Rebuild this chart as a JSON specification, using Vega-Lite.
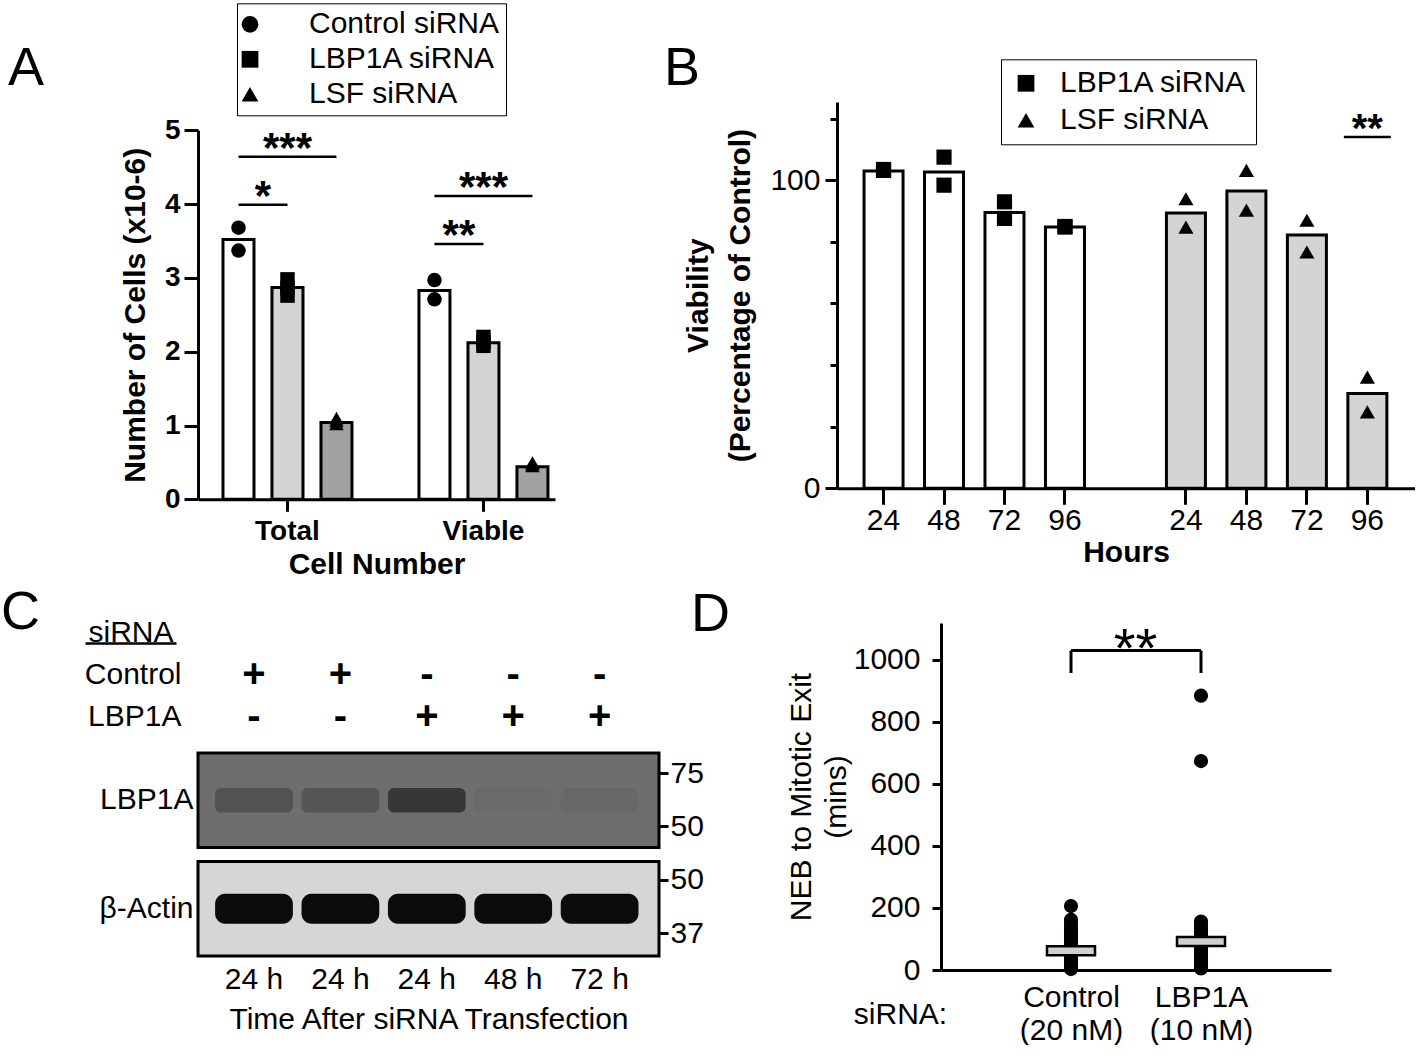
{
  "$schema": "https://vega.github.io/schema/vega-lite/v6.json",
  "background": "white",
  "autosize": {"type": "pad"},
  "padding": {"left": 1, "top": 2, "right": 0, "bottom": 0},
  "columns": 2,
  "bounds": "flush",
  "align": "each",
  "spacing": {"row": 123, "column": 178},
  "resolve": {
    "scale": {"color": "independent", "shape": "independent", "opacity": "independent"},
    "legend": {"color": "independent", "shape": "independent"}
  },
  "datasets": {
    "A_bars": [
      {"slot": "Total-Control", "treatment": "Control siRNA", "cells": 3.52},
      {"slot": "Total-LBP1A", "treatment": "LBP1A siRNA", "cells": 2.87},
      {"slot": "Total-LSF", "treatment": "LSF siRNA", "cells": 1.04},
      {"slot": "Viable-Control", "treatment": "Control siRNA", "cells": 2.83},
      {"slot": "Viable-LBP1A", "treatment": "LBP1A siRNA", "cells": 2.12},
      {"slot": "Viable-LSF", "treatment": "LSF siRNA", "cells": 0.44}
    ],
    "A_points": [
      {"slot": "Total-Control", "treatment": "Control siRNA", "cells": 3.68},
      {"slot": "Total-Control", "treatment": "Control siRNA", "cells": 3.37},
      {"slot": "Total-LBP1A", "treatment": "LBP1A siRNA", "cells": 2.98},
      {"slot": "Total-LBP1A", "treatment": "LBP1A siRNA", "cells": 2.76},
      {"slot": "Total-LBP1A", "treatment": "LBP1A siRNA", "cells": 2.86},
      {"slot": "Total-LSF", "treatment": "LSF siRNA", "cells": 1.06},
      {"slot": "Total-LSF", "treatment": "LSF siRNA", "cells": 1.1},
      {"slot": "Total-LSF", "treatment": "LSF siRNA", "cells": 1.02},
      {"slot": "Viable-Control", "treatment": "Control siRNA", "cells": 2.71},
      {"slot": "Viable-Control", "treatment": "Control siRNA", "cells": 2.97},
      {"slot": "Viable-LBP1A", "treatment": "LBP1A siRNA", "cells": 2.2},
      {"slot": "Viable-LBP1A", "treatment": "LBP1A siRNA", "cells": 2.08},
      {"slot": "Viable-LBP1A", "treatment": "LBP1A siRNA", "cells": 2.13},
      {"slot": "Viable-LSF", "treatment": "LSF siRNA", "cells": 0.48},
      {"slot": "Viable-LSF", "treatment": "LSF siRNA", "cells": 0.5},
      {"slot": "Viable-LSF", "treatment": "LSF siRNA", "cells": 0.45}
    ],
    "A_sig": [
      {"from": "Total-Control", "to": "Total-LSF", "mid": "Total-LBP1A", "level": 4.64, "stars": "***"},
      {"from": "Total-Control", "to": "Total-LBP1A", "level": 3.99, "stars": "*"},
      {"from": "Viable-Control", "to": "Viable-LSF", "mid": "Viable-LBP1A", "level": 4.11, "stars": "***"},
      {"from": "Viable-Control", "to": "Viable-LBP1A", "level": 3.46, "stars": "**"}
    ],
    "B_bars": [
      {"slot": "L24", "group": "LBP1A siRNA", "viability": 103},
      {"slot": "L48", "group": "LBP1A siRNA", "viability": 102.7},
      {"slot": "L72", "group": "LBP1A siRNA", "viability": 89.5},
      {"slot": "L96", "group": "LBP1A siRNA", "viability": 84.8},
      {"slot": "S24", "group": "LSF siRNA", "viability": 89.4},
      {"slot": "S48", "group": "LSF siRNA", "viability": 96.5},
      {"slot": "S72", "group": "LSF siRNA", "viability": 82.2},
      {"slot": "S96", "group": "LSF siRNA", "viability": 30.8}
    ],
    "B_points": [
      {"slot": "L24", "group": "LBP1A siRNA", "viability": 103.5},
      {"slot": "L24", "group": "LBP1A siRNA", "viability": 103.2},
      {"slot": "L48", "group": "LBP1A siRNA", "viability": 107.5},
      {"slot": "L48", "group": "LBP1A siRNA", "viability": 98.4},
      {"slot": "L72", "group": "LBP1A siRNA", "viability": 93},
      {"slot": "L72", "group": "LBP1A siRNA", "viability": 87.6},
      {"slot": "L96", "group": "LBP1A siRNA", "viability": 85},
      {"slot": "L96", "group": "LBP1A siRNA", "viability": 84.8},
      {"slot": "S24", "group": "LSF siRNA", "viability": 94},
      {"slot": "S24", "group": "LSF siRNA", "viability": 84.8},
      {"slot": "S48", "group": "LSF siRNA", "viability": 103.2},
      {"slot": "S48", "group": "LSF siRNA", "viability": 90.3},
      {"slot": "S72", "group": "LSF siRNA", "viability": 87},
      {"slot": "S72", "group": "LSF siRNA", "viability": 76.7},
      {"slot": "S96", "group": "LSF siRNA", "viability": 36.1},
      {"slot": "S96", "group": "LSF siRNA", "viability": 24.8}
    ],
    "B_sig": [
      {"slot": "S96", "level": 114, "stars": "**"}
    ],
    "C_blots": [
      {"blot": "LBP1A"},
      {"blot": "β-Actin"}
    ],
    "C_bands": [
      {"lane": 1, "blot": "LBP1A", "signal": 0.25},
      {"lane": 2, "blot": "LBP1A", "signal": 0.22},
      {"lane": 3, "blot": "LBP1A", "signal": 0.5},
      {"lane": 4, "blot": "LBP1A", "signal": 0.03},
      {"lane": 5, "blot": "LBP1A", "signal": 0.05},
      {"lane": 1, "blot": "β-Actin", "signal": 0.95},
      {"lane": 2, "blot": "β-Actin", "signal": 0.95},
      {"lane": 3, "blot": "β-Actin", "signal": 0.95},
      {"lane": 4, "blot": "β-Actin", "signal": 0.95},
      {"lane": 5, "blot": "β-Actin", "signal": 0.95}
    ],
    "C_signs": [
      {"lane": 1, "siRNA": "Control", "sign": "+"},
      {"lane": 2, "siRNA": "Control", "sign": "+"},
      {"lane": 3, "siRNA": "Control", "sign": "-"},
      {"lane": 4, "siRNA": "Control", "sign": "-"},
      {"lane": 5, "siRNA": "Control", "sign": "-"},
      {"lane": 1, "siRNA": "LBP1A", "sign": "-"},
      {"lane": 2, "siRNA": "LBP1A", "sign": "-"},
      {"lane": 3, "siRNA": "LBP1A", "sign": "+"},
      {"lane": 4, "siRNA": "LBP1A", "sign": "+"},
      {"lane": 5, "siRNA": "LBP1A", "sign": "+"}
    ],
    "C_mw": [
      {"mw": "75-upper"},
      {"mw": "50-upper"},
      {"mw": "50-lower"},
      {"mw": "37-lower"}
    ],
    "C_head": [
      {"head": "siRNA"}
    ],
    "D_cells": [
      {"siRNA": "Control", "mins": 3}, {"siRNA": "Control", "mins": 8}, {"siRNA": "Control", "mins": 14},
      {"siRNA": "Control", "mins": 20}, {"siRNA": "Control", "mins": 26}, {"siRNA": "Control", "mins": 31},
      {"siRNA": "Control", "mins": 36}, {"siRNA": "Control", "mins": 41}, {"siRNA": "Control", "mins": 45},
      {"siRNA": "Control", "mins": 49}, {"siRNA": "Control", "mins": 52}, {"siRNA": "Control", "mins": 55},
      {"siRNA": "Control", "mins": 58}, {"siRNA": "Control", "mins": 61}, {"siRNA": "Control", "mins": 64},
      {"siRNA": "Control", "mins": 67}, {"siRNA": "Control", "mins": 70}, {"siRNA": "Control", "mins": 73},
      {"siRNA": "Control", "mins": 77}, {"siRNA": "Control", "mins": 81}, {"siRNA": "Control", "mins": 86},
      {"siRNA": "Control", "mins": 91}, {"siRNA": "Control", "mins": 97}, {"siRNA": "Control", "mins": 104},
      {"siRNA": "Control", "mins": 112}, {"siRNA": "Control", "mins": 121}, {"siRNA": "Control", "mins": 131},
      {"siRNA": "Control", "mins": 142}, {"siRNA": "Control", "mins": 153}, {"siRNA": "Control", "mins": 162},
      {"siRNA": "Control", "mins": 206},
      {"siRNA": "LBP1A", "mins": 5}, {"siRNA": "LBP1A", "mins": 12}, {"siRNA": "LBP1A", "mins": 20},
      {"siRNA": "LBP1A", "mins": 28}, {"siRNA": "LBP1A", "mins": 36}, {"siRNA": "LBP1A", "mins": 44},
      {"siRNA": "LBP1A", "mins": 51}, {"siRNA": "LBP1A", "mins": 57}, {"siRNA": "LBP1A", "mins": 63},
      {"siRNA": "LBP1A", "mins": 68}, {"siRNA": "LBP1A", "mins": 73}, {"siRNA": "LBP1A", "mins": 78},
      {"siRNA": "LBP1A", "mins": 83}, {"siRNA": "LBP1A", "mins": 87}, {"siRNA": "LBP1A", "mins": 91},
      {"siRNA": "LBP1A", "mins": 95}, {"siRNA": "LBP1A", "mins": 100}, {"siRNA": "LBP1A", "mins": 106},
      {"siRNA": "LBP1A", "mins": 112}, {"siRNA": "LBP1A", "mins": 119}, {"siRNA": "LBP1A", "mins": 127},
      {"siRNA": "LBP1A", "mins": 136}, {"siRNA": "LBP1A", "mins": 146}, {"siRNA": "LBP1A", "mins": 156},
      {"siRNA": "LBP1A", "mins": 673}, {"siRNA": "LBP1A", "mins": 884}
    ],
    "D_median": [
      {"siRNA": "Control", "mins": 62},
      {"siRNA": "LBP1A", "mins": 92}
    ],
    "D_bracket": [
      {"siRNA": "Control", "lo": 957, "hi": 1029},
      {"siRNA": "LBP1A", "lo": 957, "hi": 1029}
    ],
    "D_sig": [
      {"from": "Control", "to": "LBP1A", "level": 1029, "stars": "**"}
    ]
  },
  "concat": [
    {
      "width": 357,
      "height": 397.3,
      "title": {"text": "A", "anchor": "start", "frame": "group", "orient": "top", "dx": -190, "offset": -136, "baseline": "alphabetic", "fontSize": 54, "fontWeight": "normal", "color": "black"},
      "layer": [
        {
          "data": {"name": "A_bars"},
          "mark": {"type": "bar", "stroke": "black", "strokeWidth": 3},
          "encoding": {
            "x": {
              "field": "slot", "type": "nominal",
              "scale": {"type": "band", "domain": ["Total-Control", "Total-LBP1A", "Total-LSF", "gap", "Viable-Control", "Viable-LBP1A", "Viable-LSF"], "paddingInner": 0.367, "paddingOuter": 0.327, "align": 0.78},
              "axis": {"values": ["Total-LBP1A", "Viable-LBP1A"], "labelExpr": "split(datum.label, '-')[0]", "labelAngle": 0, "title": "Cell Number", "titleFontSize": 30, "titleFontWeight": "bold", "labelFontSize": 28, "labelFontWeight": "bold", "tickSize": 12, "tickWidth": 3, "domainWidth": 3, "labelPadding": 6, "titlePadding": 4}
            },
            "y": {
              "field": "cells", "type": "quantitative",
              "scale": {"domain": [0, 5], "range": [397.3, 28.3], "nice": false},
              "axis": {"values": [0, 1, 2, 3, 4, 5], "format": "d", "title": "Number of Cells (x10-6)", "titleFontSize": 30, "titleFontWeight": "bold", "labelFontSize": 28, "labelFontWeight": "bold", "tickSize": 14, "tickWidth": 3, "domainWidth": 3, "labelPadding": 4, "titlePadding": 14}
            },
            "color": {"field": "slot", "type": "nominal", "scale": {"domain": ["Total-Control", "Total-LBP1A", "Total-LSF", "Viable-Control", "Viable-LBP1A", "Viable-LSF"], "range": ["#ffffff", "#d4d4d4", "#a2a2a2", "#ffffff", "#d4d4d4", "#a2a2a2"]}, "legend": null}
          }
        },
        {
          "data": {"name": "A_points"},
          "mark": {"type": "point", "filled": true, "color": "black", "size": 210, "opacity": 1},
          "encoding": {
            "x": {"field": "slot", "type": "nominal"},
            "y": {"field": "cells", "type": "quantitative"},
            "shape": {
              "field": "treatment", "type": "nominal",
              "scale": {"domain": ["Control siRNA", "LBP1A siRNA", "LSF siRNA"], "range": ["circle", "square", "triangle-up"]},
              "legend": {"orient": "none", "legendX": 39, "legendY": -98.7, "direction": "vertical", "title": null, "strokeColor": "black", "fillColor": "white", "padding": 6, "labelFontSize": 30, "labelLimit": 400, "labelColor": "black", "labelOffset": 44, "symbolOffset": -8, "rowPadding": 5, "symbolSize": 280, "symbolFillColor": "black", "symbolStrokeColor": "black", "symbolStrokeWidth": 0}
            }
          }
        },
        {
          "data": {"name": "A_sig"},
          "mark": {"type": "rule", "strokeWidth": 2.5, "color": "black"},
          "encoding": {
            "x": {"field": "from", "type": "nominal"},
            "x2": {"field": "to"},
            "y": {"field": "level", "type": "quantitative"}
          }
        },
        {
          "data": {"name": "A_sig"},
          "transform": [{"filter": "isValid(datum.mid)"}],
          "mark": {"type": "text", "fontSize": 42, "fontWeight": "bold", "baseline": "alphabetic", "align": "center", "dy": 5, "color": "black"},
          "encoding": {
            "x": {"field": "mid", "type": "nominal"},
            "y": {"field": "level", "type": "quantitative"},
            "text": {"field": "stars"}
          }
        },
        {
          "data": {"name": "A_sig"},
          "transform": [{"filter": "!isValid(datum.mid)"}],
          "mark": {"type": "text", "fontSize": 42, "fontWeight": "bold", "baseline": "alphabetic", "align": "center", "dy": 5, "dx": 24.5, "color": "black"},
          "encoding": {
            "x": {"field": "from", "type": "nominal"},
            "y": {"field": "level", "type": "quantitative"},
            "text": {"field": "stars"}
          }
        }
      ]
    },
    {
      "width": 578,
      "height": 386.3,
      "title": {"text": "B", "anchor": "start", "frame": "group", "orient": "top", "dx": -173, "offset": -80, "baseline": "alphabetic", "fontSize": 54, "fontWeight": "normal", "color": "black"},
      "layer": [
        {
          "data": {"name": "B_bars"},
          "mark": {"type": "bar", "stroke": "black", "strokeWidth": 3},
          "encoding": {
            "x": {
              "field": "slot", "type": "nominal",
              "scale": {"type": "band", "domain": ["L24", "L48", "L72", "L96", "gap", "S24", "S48", "S72", "S96"], "paddingInner": 0.355, "paddingOuter": 0.456, "align": 0.49},
              "axis": {"values": ["L24", "L48", "L72", "L96", "S24", "S48", "S72", "S96"], "labelExpr": "slice(datum.label, 1)", "labelAngle": 0, "labelOverlap": false, "title": "Hours", "titleFontSize": 30, "titleFontWeight": "bold", "labelFontSize": 30, "tickSize": 16, "tickWidth": 3, "domainWidth": 3, "labelPadding": 1, "titlePadding": 2}
            },
            "y": {
              "field": "viability", "type": "quantitative",
              "scale": {"domain": [0, 125.4], "nice": false},
              "axis": {"values": [0, 10, 20, 30, 40, 50, 60, 70, 80, 90, 100, 110, 120], "labelExpr": "datum.value % 50 === 0 ? datum.label : ''", "labelOverlap": false, "tickSize": {"condition": {"test": "datum.value % 50 === 0", "value": 12}, "value": 7}, "title": ["Viability", "(Percentage of Control)"], "titleFontSize": 30, "titleFontWeight": "bold", "titleLineHeight": 42, "titlePadding": 14, "labelFontSize": 30, "labelPadding": 5, "tickWidth": 3, "domainWidth": 3}
            },
            "color": {"field": "slot", "type": "nominal", "scale": {"domain": ["L24", "L48", "L72", "L96", "S24", "S48", "S72", "S96"], "range": ["#ffffff", "#ffffff", "#ffffff", "#ffffff", "#d4d4d4", "#d4d4d4", "#d4d4d4", "#d4d4d4"]}, "legend": null}
          }
        },
        {
          "data": {"name": "B_points"},
          "mark": {"type": "point", "filled": true, "color": "black", "size": 230, "opacity": 1},
          "encoding": {
            "x": {"field": "slot", "type": "nominal"},
            "y": {"field": "viability", "type": "quantitative"},
            "shape": {
              "field": "group", "type": "nominal",
              "scale": {"domain": ["LBP1A siRNA", "LSF siRNA"], "range": ["square", "triangle-up"]},
              "legend": {"orient": "none", "legendX": 164, "legendY": -42.7, "direction": "vertical", "title": null, "strokeColor": "black", "fillColor": "white", "padding": 9, "labelFontSize": 30, "labelLimit": 400, "labelColor": "black", "labelOffset": 19, "symbolOffset": 1, "rowPadding": 7, "symbolSize": 280, "symbolFillColor": "black", "symbolStrokeColor": "black", "symbolStrokeWidth": 0}
            }
          }
        },
        {
          "data": {"name": "B_sig"},
          "mark": {"type": "tick", "size": 47, "thickness": 2.5, "color": "black", "opacity": 1},
          "encoding": {
            "x": {"field": "slot", "type": "nominal"},
            "y": {"field": "level", "type": "quantitative"}
          }
        },
        {
          "data": {"name": "B_sig"},
          "mark": {"type": "text", "fontSize": 40, "fontWeight": "bold", "baseline": "alphabetic", "align": "center", "dy": 5, "color": "black"},
          "encoding": {
            "x": {"field": "slot", "type": "nominal"},
            "y": {"field": "level", "type": "quantitative"},
            "text": {"field": "stars"}
          }
        }
      ]
    },
    {
      "width": 461,
      "height": 333,
      "title": {"text": "C", "anchor": "start", "frame": "group", "orient": "top", "dx": -197, "offset": -66, "baseline": "alphabetic", "fontSize": 54, "fontWeight": "normal", "color": "black"},
      "layer": [
        {
          "layer": [
            {
              "data": {"name": "C_blots"},
              "mark": {"type": "rect", "stroke": "black", "strokeWidth": 3},
              "encoding": {
                "y": {
                  "field": "blot", "type": "nominal",
                  "scale": {"type": "band", "domain": ["LBP1A", "β-Actin"], "range": [130, 333], "paddingInner": 0.129, "paddingOuter": 0},
                  "axis": {"orient": "left", "domain": false, "ticks": false, "labelFontSize": 30, "labelPadding": 5, "title": null}
                },
                "x": {"value": 0},
                "x2": {"value": "width"},
                "color": {"field": "blot", "type": "nominal", "scale": {"domain": ["LBP1A", "β-Actin"], "range": ["#6e6e6e", "#d6d6d6"]}, "legend": null}
              }
            },
            {
              "data": {"name": "C_bands"},
              "transform": [{"filter": "datum.blot === 'LBP1A'"}],
              "mark": {"type": "bar", "height": {"band": 0.26}, "color": "black", "cornerRadius": 6},
              "encoding": {
                "x": {
                  "field": "lane", "type": "ordinal",
                  "scale": {"type": "band", "paddingInner": 0.1, "paddingOuter": 0.2176, "align": 0.455},
                  "axis": {"orient": "bottom", "domain": false, "ticks": false, "labelExpr": "['24 h','24 h','24 h','48 h','72 h'][datum.value - 1]", "labelAngle": 0, "labelFontSize": 30, "labelPadding": 8, "title": "Time After siRNA Transfection", "titleFontSize": 30, "titleFontWeight": "normal", "titlePadding": 10}
                },
                "y": {"field": "blot", "type": "nominal"},
                "opacity": {"field": "signal", "type": "quantitative", "scale": {"domain": [0, 1], "range": [0, 1]}, "legend": null}
              }
            },
            {
              "data": {"name": "C_bands"},
              "transform": [{"filter": "datum.blot === 'β-Actin'"}],
              "mark": {"type": "bar", "height": {"band": 0.32}, "color": "black", "cornerRadius": 10},
              "encoding": {
                "x": {"field": "lane", "type": "ordinal"},
                "y": {"field": "blot", "type": "nominal"},
                "opacity": {"field": "signal", "type": "quantitative", "scale": {"domain": [0, 1], "range": [0, 1]}, "legend": null}
              }
            }
          ]
        },
        {
          "data": {"name": "C_signs"},
          "mark": {"type": "text", "fontSize": 40, "fontWeight": "bold", "baseline": "alphabetic", "align": "center", "dy": 13, "color": "black"},
          "encoding": {
            "x": {"field": "lane", "type": "ordinal", "scale": {"type": "band", "paddingInner": 0.1, "paddingOuter": 0.2176, "align": 0.455}, "axis": null},
            "y": {
              "field": "siRNA", "type": "nominal",
              "scale": {"type": "point", "domain": ["Control", "LBP1A"], "range": [51, 93], "padding": 0},
              "axis": {"orient": "left", "domain": false, "ticks": false, "labelFontSize": 30, "labelPadding": 17, "title": null}
            },
            "text": {"field": "sign"}
          }
        },
        {
          "data": {"name": "C_mw"},
          "mark": {"type": "point", "opacity": 0},
          "encoding": {
            "y": {
              "field": "mw", "type": "nominal",
              "scale": {"type": "point", "domain": ["75-upper", "50-upper", "50-lower", "37-lower"], "range": [150, 310], "padding": 0},
              "axis": {"orient": "right", "domain": false, "ticks": true, "tickSize": 9, "tickWidth": 3, "labelExpr": "split(datum.label, '-')[0]", "labelFontSize": 30, "labelPadding": 2, "title": null}
            }
          }
        },
        {
          "data": {"name": "C_head"},
          "mark": {"type": "point", "opacity": 0},
          "encoding": {
            "x": {
              "field": "head", "type": "nominal",
              "scale": {"type": "point", "domain": ["siRNA"], "range": [-113, -22], "padding": 0.5},
              "axis": {"orient": "top", "offset": -20, "ticks": false, "domain": true, "domainWidth": 2.5, "labelFontSize": 30, "labelPadding": 2, "labelBaseline": "alphabetic", "labelAngle": 0, "title": null}
            }
          }
        }
      ],
      "resolve": {"scale": {"x": "independent", "y": "independent", "opacity": "independent"}, "axis": {"x": "independent", "y": "independent"}}
    },
    {
      "width": 494,
      "height": 347,
      "title": {"text": "D", "anchor": "start", "frame": "group", "orient": "top", "dx": -146, "offset": -63, "baseline": "alphabetic", "fontSize": 54, "fontWeight": "normal", "color": "black"},
      "layer": [
        {
          "data": {"name": "D_cells"},
          "mark": {"type": "point", "shape": "circle", "filled": true, "color": "black", "size": 200, "opacity": 1},
          "encoding": {
            "x": {
              "field": "siRNA", "type": "nominal",
              "scale": {"type": "point", "domain": ["Control", "LBP1A"], "range": [104, 494], "padding": 1.01},
              "axis": {"ticks": false, "domainWidth": 3, "labelAngle": 0, "labelExpr": "datum.label === 'Control' ? ['Control', '(20 nM)'] : ['LBP1A', '(10 nM)']", "labelFontSize": 30, "labelLineHeight": 33, "labelPadding": 12, "title": "siRNA:", "titleFontSize": 30, "titleFontWeight": "normal", "titleAngle": 0, "titleX": 63, "titleY": 44, "titleAlign": "center", "titleBaseline": "middle"}
            },
            "y": {
              "field": "mins", "type": "quantitative",
              "scale": {"domain": [0, 1118], "nice": false},
              "axis": {"offset": -104, "values": [0, 200, 400, 600, 800, 1000], "format": "d", "tickSize": 9, "tickWidth": 3, "domainWidth": 3, "labelFontSize": 30, "labelPadding": 12, "title": ["NEB to Mitotic Exit", "(mins)"], "titleFontSize": 30, "titleFontWeight": "normal", "titleLineHeight": 35, "titlePadding": 2}
            }
          }
        },
        {
          "data": {"name": "D_median"},
          "mark": {"type": "tick", "size": 48, "thickness": 9, "color": "#d0d0d0", "stroke": "black", "strokeWidth": 2.5, "opacity": 1},
          "encoding": {
            "x": {"field": "siRNA", "type": "nominal"},
            "y": {"field": "mins", "type": "quantitative"}
          }
        },
        {
          "data": {"name": "D_sig"},
          "mark": {"type": "rule", "strokeWidth": 3, "color": "black"},
          "encoding": {
            "x": {"field": "from", "type": "nominal"},
            "x2": {"field": "to"},
            "y": {"field": "level", "type": "quantitative"}
          }
        },
        {
          "data": {"name": "D_bracket"},
          "mark": {"type": "rule", "strokeWidth": 3, "color": "black"},
          "encoding": {
            "x": {"field": "siRNA", "type": "nominal"},
            "y": {"field": "lo", "type": "quantitative"},
            "y2": {"field": "hi"}
          }
        },
        {
          "data": {"name": "D_sig"},
          "mark": {"type": "text", "fontSize": 56, "baseline": "alphabetic", "align": "center", "dx": 64.5, "dy": 16, "color": "black"},
          "encoding": {
            "x": {"field": "from", "type": "nominal"},
            "y": {"field": "level", "type": "quantitative"},
            "text": {"field": "stars"}
          }
        }
      ]
    }
  ],
  "config": {
    "font": "Liberation Sans",
    "view": {"stroke": null},
    "axis": {"grid": false, "domainColor": "black", "tickColor": "black", "labelColor": "black", "titleColor": "black", "labelFont": "Liberation Sans", "titleFont": "Liberation Sans"},
    "legend": {"labelFont": "Liberation Sans"},
    "title": {"font": "Liberation Sans"},
    "text": {"font": "Liberation Sans"}
  }
}
